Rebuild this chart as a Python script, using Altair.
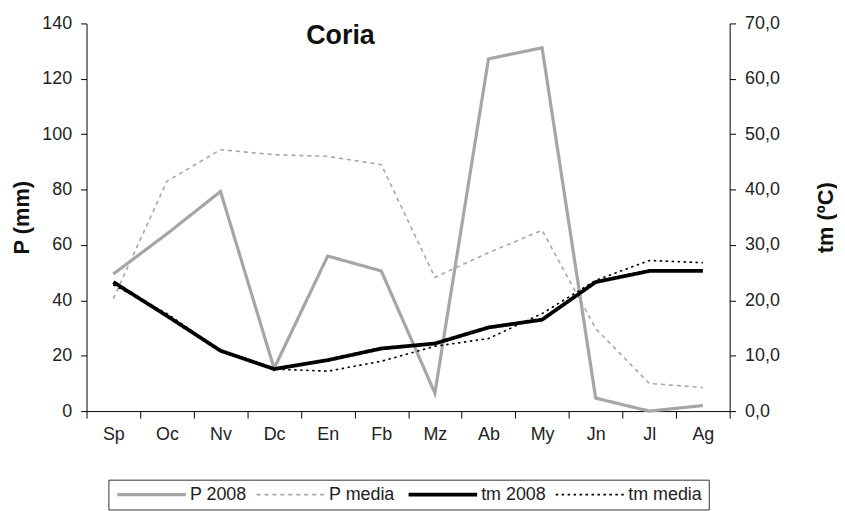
import altair as alt
import pandas as pd

months = ["Sp", "Oc", "Nv", "Dc", "En", "Fb", "Mz", "Ab", "My", "Jn", "Jl", "Ag"]
p_2008 = [49.5, 64, 79.3, 15.4, 56, 50.6, 6.5, 127.2, 131.2, 4.7, 0, 2]
p_media = [40.6, 83, 94.4, 92.6, 92.0, 89, 48.3, 57.2, 65.3, 29.8, 10, 8.5]
tm_2008 = [23.3, 17.2, 10.9, 7.6, 9.2, 11.3, 12.2, 15.1, 16.5, 23.3, 25.3, 25.3]
tm_media = [22.8, 17.6, 10.9, 7.6, 7.2, 9.0, 11.7, 13.1, 17.6, 23.6, 27.2, 26.8]

series_names = ["P 2008", "P media", "tm 2008", "tm media"]
series_colors = ["#a6a6a6", "#a6a6a6", "#000000", "#000000"]
series_dash = [[1, 0], [4, 4], [1, 0], [2.5, 3.5]]

p_df = pd.DataFrame({
    "month": months * 2,
    "series": ["P 2008"] * 12 + ["P media"] * 12,
    "value": p_2008 + p_media,
})
tm_df = pd.DataFrame({
    "month": months * 2,
    "series": ["tm 2008"] * 12 + ["tm media"] * 12,
    "value": tm_2008 + tm_media,
})

FONT = "Liberation Sans"
TXT = "#222222"
THICK = "datum.series == 'P 2008' || datum.series == 'tm 2008'"

x_enc = alt.X(
    "month:N",
    sort=months,
    bandPosition=0.5,
    scale=alt.Scale(type="band", paddingInner=0, paddingOuter=0),
    axis=alt.Axis(title=None, labelAngle=0, tickBand="extent", tickSize=7,
                  labelPadding=8, domainColor="black", tickColor="black",
                  labelFontSize=18, labelColor=TXT),
)

legend = alt.Legend(
    title=None, orient="none", legendX=22, legendY=459, direction="horizontal",
    symbolType="M-1,0H10.5", symbolSize=144, labelFontSize=18, labelFont=FONT,
    labelColor=TXT, strokeColor="#333333", padding=6, columnPadding=5,
    labelOffset=58,
    symbolStrokeWidth=alt.ExprRef(
        expr="datum.value == 'P 2008' ? 3.2 : (datum.value == 'tm 2008' ? 3.8 : 1.6)"),
)

color_enc = alt.Color("series:N", scale=alt.Scale(domain=series_names, range=series_colors), legend=legend)
dash_enc = alt.StrokeDash("series:N", scale=alt.Scale(domain=series_names, range=series_dash), legend=legend)

p_layer = alt.Chart(p_df).mark_line().encode(
    x=x_enc,
    y=alt.Y("value:Q", scale=alt.Scale(domain=[0, 140]),
            axis=alt.Axis(title="P (mm)", orient="left", values=list(range(0, 141, 20)),
                          grid=False, tickSize=6, labelPadding=9, domainColor="black",
                          tickColor="black", labelFontSize=18, labelColor=TXT,
                          titleFontSize=22, titleFontWeight="bold", titlePadding=8,
                          titleColor="#111111")),
    color=color_enc, strokeDash=dash_enc,
    strokeWidth=alt.condition(THICK, alt.value(3.2), alt.value(1.6)),
)

tm_layer = alt.Chart(tm_df).mark_line().encode(
    x=x_enc,
    y=alt.Y("value:Q", scale=alt.Scale(domain=[0, 70]),
            axis=alt.Axis(title="tm (ºC)", orient="right", values=list(range(0, 71, 10)),
                          labelExpr="replace(format(datum.value, '.1f'), '.', ',')",
                          grid=False, tickSize=6, labelPadding=9, domainColor="black",
                          tickColor="black", labelFontSize=18, labelColor=TXT,
                          titleFontSize=22, titleFontWeight="bold", titleAngle=270,
                          titlePadding=58, titleColor="#111111")),
    color=color_enc, strokeDash=dash_enc,
    strokeWidth=alt.condition(THICK, alt.value(3.8), alt.value(1.6)),
)

chart = alt.layer(p_layer, tm_layer).resolve_scale(y="independent").properties(
    width=647, height=390,
    padding={"left": 2, "top": 5, "right": 0, "bottom": 0},
    title=alt.TitleParams("Coria", anchor="start", frame="group", dx=221, dy=40,
                          fontSize=27, fontWeight="bold", font=FONT, color="#111111"),
).configure(font=FONT).configure_view(stroke=None).configure_axis(labelFont=FONT, titleFont=FONT)

chart.save("out.html", embed_options={"renderer": "svg", "actions": False})
